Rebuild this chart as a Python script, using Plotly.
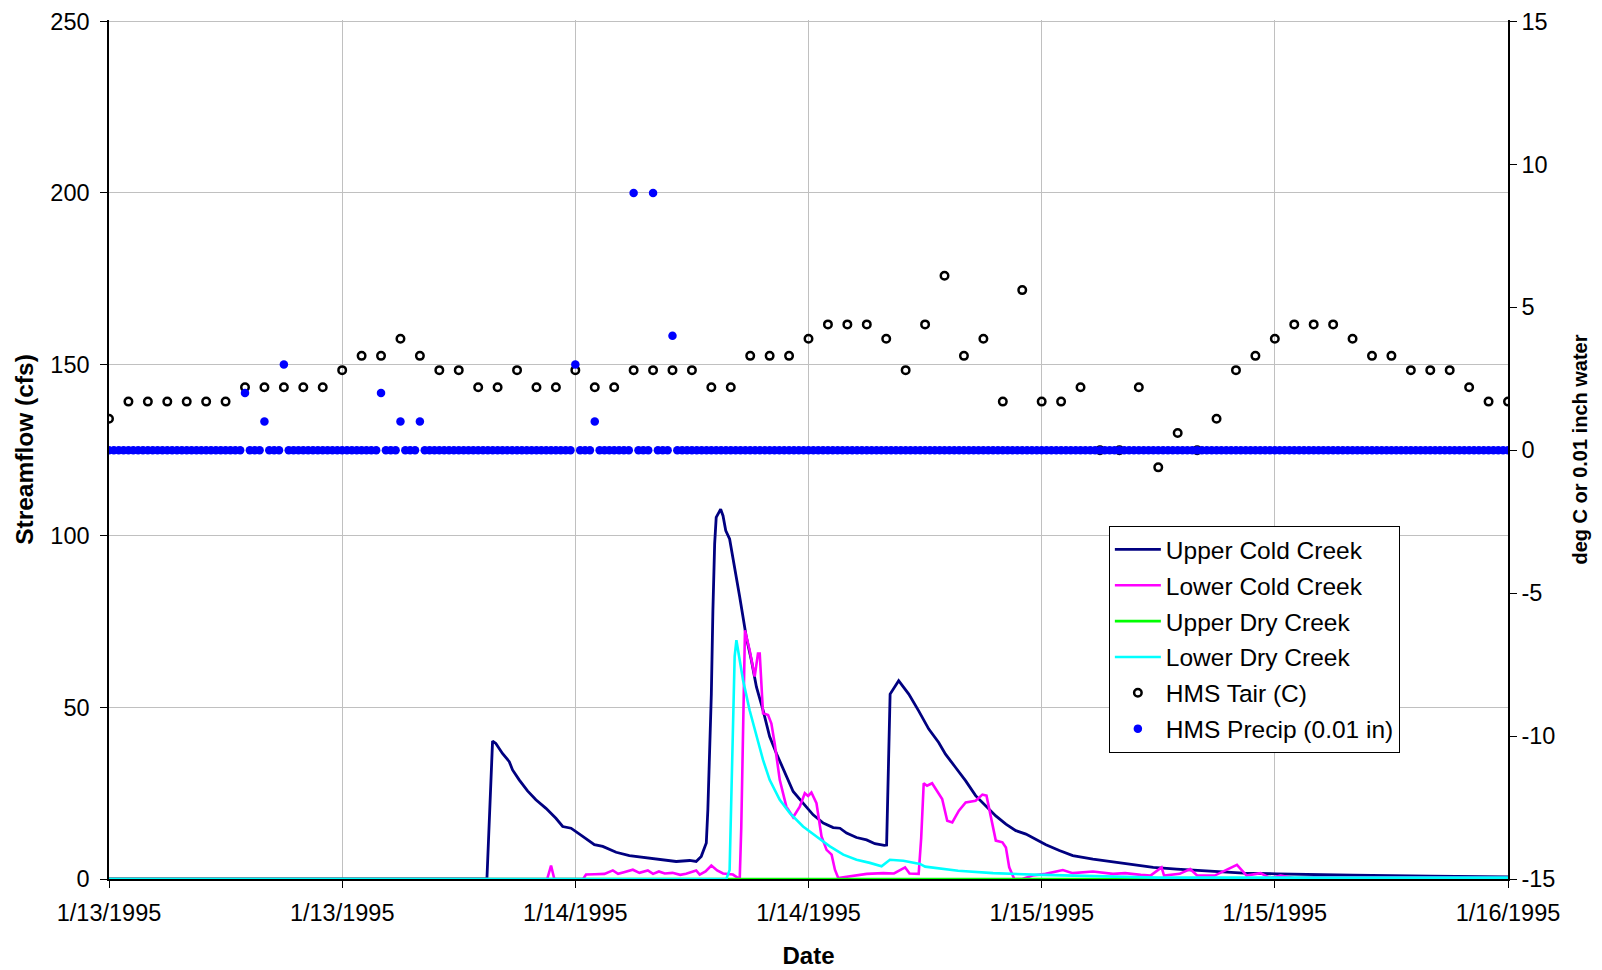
import numpy as np
import pandas as pd
import plotly.graph_objects as go

BASE = pd.Timestamp("1995-01-13 00:00")

# ---------------- streamflow (cfs) : hours since 1/13/1995 00:00 ----------------
ucc_hours = [0, 19.45, 19.74, 19.91, 20.25, 20.6, 20.77, 21.11, 21.54, 21.97, 22.49, 23.0, 23.35,
             23.78, 24.38, 24.98, 25.41, 26.1, 26.78, 27.47, 28.33, 29.19, 29.88, 30.22, 30.48,
             30.74, 30.82, 30.91, 31.0, 31.08, 31.17, 31.25, 31.48, 31.6, 31.74, 31.94, 32.11,
             32.29, 32.46, 32.63, 32.8, 33.06, 33.32, 33.66, 34.0, 34.35, 34.86, 35.21, 35.72,
             36.24, 36.76, 37.27, 37.62, 37.96, 38.47, 38.99, 39.42, 39.9, 40.02, 40.1, 40.2,
             40.64, 41.16, 41.67, 42.19, 42.7, 43.05, 43.57, 44.09, 44.6, 45.12, 45.64, 46.16,
             46.67, 47.19, 47.71, 48.22, 48.91, 49.6, 50.64, 51.67, 52.7, 53.74, 54.95, 56.67,
             58.4, 60.1, 61.8, 64, 68, 72]
ucc_cfs = [0, 0, 40.2, 39.5, 36.6, 34.2, 31.8, 28.9, 25.7, 23.1, 20.6, 17.7, 15.3,
           14.8, 12.4, 10.0, 9.5, 7.8, 6.8, 6.3, 5.8, 5.1, 5.4, 5.1, 6.6,
           10.5, 20.2, 34.7, 54, 78.3, 97.7, 105.4, 107.8, 105.9, 101.6, 99.1, 93.8,
           88, 82.2, 76.4, 70.5, 63.8, 56, 49.2, 41.5, 36.6, 29.8, 25.5, 22.1,
           18.7, 16.3, 15.0, 14.8, 13.4, 12.1, 11.4, 10.3, 9.8, 9.9, 30, 53.9,
           57.8, 53.9, 49, 43.7, 39.8, 36.4, 32.5, 28.6, 24.3, 21.4, 18.4, 16,
           14.1, 13.1, 11.5, 10, 8.3, 6.8, 5.8, 5.0, 4.4, 3.4, 2.9, 2.2,
           1.7, 1.5, 1.3, 1.1, 0.8, 0.6]

lcc_hours = [0, 22.55, 22.75, 22.92, 24.4, 24.55, 25.0, 25.5, 25.93, 26.2, 26.5, 26.96, 27.3,
             27.73, 28.0, 28.3, 28.6, 29.0, 29.4, 29.7, 30.22, 30.4, 30.7, 31.0, 31.3, 31.6,
             32.11, 32.29, 32.46, 32.54, 32.63, 32.73, 32.97, 33.23, 33.4, 33.49, 33.66, 33.92,
             34.09, 34.26, 34.52, 34.86, 35.21, 35.55, 35.81, 35.98, 36.15, 36.41, 36.67, 36.93,
             37.19, 37.36, 37.53, 38.3, 39.0, 39.85, 40.4, 40.97, 41.2, 41.67, 41.8, 41.93, 42.1,
             42.36, 42.62, 42.88, 43.14, 43.4, 43.74, 44.09, 44.6, 44.95, 45.16, 45.38, 45.64,
             45.98, 46.16, 46.33, 46.59, 47.0, 47.53, 48.2, 49.09, 49.6, 50.64, 51.67, 52.3,
             53.1, 53.6, 54.17, 54.3, 55.1, 55.64, 56.0, 56.9, 58.05, 58.55, 59.26, 59.75, 60.3,
             61.0, 62.0, 72]
lcc_cfs = [0, 0, 3.9, 0, 0, 1.3, 1.4, 1.5, 2.5, 1.5, 2.0, 2.7, 1.8,
           2.5, 1.5, 2.2, 1.6, 1.8, 1.2, 1.5, 2.5, 1.3, 2.2, 3.9, 2.5, 1.6,
           1.3, 0.7, 0, 15, 44, 72.5, 66.7, 59, 65.7, 65.7, 48.3, 47.8,
           45.3, 39.5, 28.9, 21.1, 18, 21.1, 25, 24.2, 25.2, 22.1, 12.4, 8.5,
           7.1, 2.7, 0.3, 0.9, 1.5, 1.7, 1.6, 3.4, 1.6, 1.5, 12, 27.9, 27.2,
           27.9, 25.7, 23.3, 17, 16.5, 19.9, 22.3, 22.8, 24.6, 24.3, 18, 11.2,
           10.7, 9.2, 3.4, 0, 0, 1.0, 1.5, 2.6, 1.7, 2.2, 1.5, 1.7,
           1.2, 1.0, 3.4, 1.0, 1.5, 2.9, 1.0, 1.0, 4.1, 1.0, 1.7, 0.3, 1.0,
           0.3, 0.5, 0.3]

udc_hours = [0, 72]
udc_cfs = [0, 0]

ldc_hours = [0, 31.77, 31.94, 32.03, 32.11, 32.2, 32.29, 32.46, 32.63, 32.97, 33.32, 33.66, 34.0,
             34.52, 35.04, 35.72, 36.41, 37.1, 37.79, 38.47, 39.16, 39.76, 40.19, 40.88, 41.74,
             42.0, 43.7, 45.5, 48, 50.6, 54, 72]
ldc_cfs = [0, 0, 2.6, 22, 46.4, 64.9, 69.6, 63.8, 58, 49.2, 41.5, 34.7, 28.9,
           23.1, 19.2, 15.3, 12.4, 9.5, 7.1, 5.6, 4.7, 3.7, 5.6, 5.3, 4.4,
           3.6, 2.4, 1.7, 1.2, 0.8, 0.4, 0.4]

# ---------------- HMS Tair (deg C), hourly 0..72 ----------------
tair_hours = list(range(73))
tair_c = [1.1, 1.7, 1.7, 1.7, 1.7, 1.7, 1.7, 2.2, 2.2, 2.2, 2.2, 2.2,
          2.8, 3.3, 3.3, 3.9, 3.3, 2.8, 2.8, 2.2, 2.2, 2.8, 2.2, 2.2,
          2.8, 2.2, 2.2, 2.8, 2.8, 2.8, 2.8, 2.2, 2.2, 3.3, 3.3, 3.3,
          3.9, 4.4, 4.4, 4.4, 3.9, 2.8, 4.4, 6.1, 3.3, 3.9, 1.7, 5.6,
          1.7, 1.7, 2.2, 0.0, 0.0, 2.2, -0.6, 0.6, 0.0, 1.1, 2.8, 3.3,
          3.9, 4.4, 4.4, 4.4, 3.9, 3.3, 3.3, 2.8, 2.8, 2.8, 2.2, 1.7, 1.7]

# ---------------- HMS Precip (0.01 in), 15-minute record ----------------
precip_step_h = 0.25
precip_event_hours = [7, 8, 9, 14, 15, 16, 24, 25, 27, 28, 29]
precip_event_vals = [2, 1, 3, 2, 1, 1, 3, 1, 9, 9, 4]
precip_hours = [i * precip_step_h for i in range(289)]
precip_vals = [0.0] * len(precip_hours)
for h, v in zip(precip_event_hours, precip_event_vals):
    precip_vals[int(round(h / precip_step_h))] = v

# ---------------- axis ticks ----------------
left_tick_vals = [0, 50, 100, 150, 200, 250]
right_tick_vals = [-15, -10, -5, 0, 5, 10, 15]
right_tick_text = ["-15", "-10", "-5", "0", "5", "10", "15"]
left_range = [0, 250.4]
right_range = [-15, -15 + 30 * 250.4 / 250]


def to_dt(hours):
    return BASE + pd.to_timedelta(np.array(hours, dtype=float), unit="h")


FONT = "Liberation Sans, Arial, sans-serif"
fig = go.Figure()

fig.add_trace(go.Scatter(x=to_dt(ucc_hours), y=ucc_cfs, mode="lines", name="Upper Cold Creek",
                         line=dict(color="#000080", width=2.8), legendgroup="a"))
fig.add_trace(go.Scatter(x=to_dt(lcc_hours), y=lcc_cfs, mode="lines", name="Lower Cold Creek",
                         line=dict(color="#FF00FF", width=2.6), legendgroup="b"))
fig.add_trace(go.Scatter(x=to_dt(udc_hours), y=udc_cfs, mode="lines", name="Upper Dry Creek",
                         line=dict(color="#00FF00", width=2.6), legendgroup="c"))
fig.add_trace(go.Scatter(x=to_dt(ldc_hours), y=ldc_cfs, mode="lines", name="Lower Dry Creek",
                         line=dict(color="#00FFFF", width=2.6), legendgroup="d"))
fig.add_trace(go.Scatter(x=to_dt(tair_hours), y=tair_c, mode="markers", name="HMS Tair (C)",
                         marker=dict(symbol="circle-open", size=7.5, color="black",
                                     line=dict(width=2.5, color="black")),
                         yaxis="y2", legendgroup="e"))
fig.add_trace(go.Scatter(x=to_dt(precip_hours), y=precip_vals, mode="markers",
                         name="HMS Precip (0.01 in)",
                         marker=dict(symbol="circle", size=8.5, color="#0000FF"),
                         yaxis="y2", legendgroup="f"))

grid = "#c0c0c0"
fig.update_layout(
    width=1602, height=970,
    margin=dict(l=101, r=102, t=12, b=99),
    paper_bgcolor="white", plot_bgcolor="white",
    font=dict(family=FONT, size=24, color="black"),
    showlegend=True,
    legend=dict(x=0.7147, y=0.411, xanchor="left", yanchor="top",
                bgcolor="white", bordercolor="black", borderwidth=1,
                font=dict(size=24.5, family=FONT), traceorder="grouped",
                tracegroupgap=1, itemwidth=46),
    xaxis=dict(
        type="date",
        range=[BASE, BASE + pd.Timedelta(hours=72)],
        dtick=12 * 3600 * 1000, tick0=BASE,
        tickformat="%-m/%-d/%Y",
        showgrid=True, gridcolor=grid, gridwidth=1,
        showline=True, linecolor="black", linewidth=1.5,
        ticks="outside", ticklen=7, tickcolor="black", ticklabelstandoff=5,
        tickfont=dict(size=23.5, family=FONT), ticklabeloverflow="allow",
        title=dict(text="<b>Date</b>", font=dict(size=24, family=FONT), standoff=22),
        automargin=False, zeroline=False,
    ),
    yaxis=dict(
        range=left_range, tickvals=left_tick_vals,
        showgrid=True, gridcolor=grid, gridwidth=1,
        showline=True, linecolor="black", linewidth=1.5,
        ticks="outside", ticklen=7, tickcolor="black", ticklabelstandoff=6,
        tickfont=dict(size=23.5, family=FONT), ticklabeloverflow="allow",
        title=dict(text="<b>Streamflow (cfs)</b>", font=dict(size=24.5, family=FONT), standoff=10),
        automargin=False, zeroline=False,
    ),
    yaxis2=dict(
        range=right_range, tickvals=right_tick_vals, ticktext=right_tick_text,
        overlaying="y", side="right",
        showgrid=False,
        showline=True, linecolor="black", linewidth=1.5,
        ticks="outside", ticklen=7, tickcolor="black",
        tickfont=dict(size=23.5, family=FONT), ticklabeloverflow="allow",
        title=dict(text="<b>deg C or 0.01 inch water</b>", font=dict(size=20, family=FONT), standoff=19),
        automargin=False, zeroline=False,
    ),
)

fig.write_html("out.html")
